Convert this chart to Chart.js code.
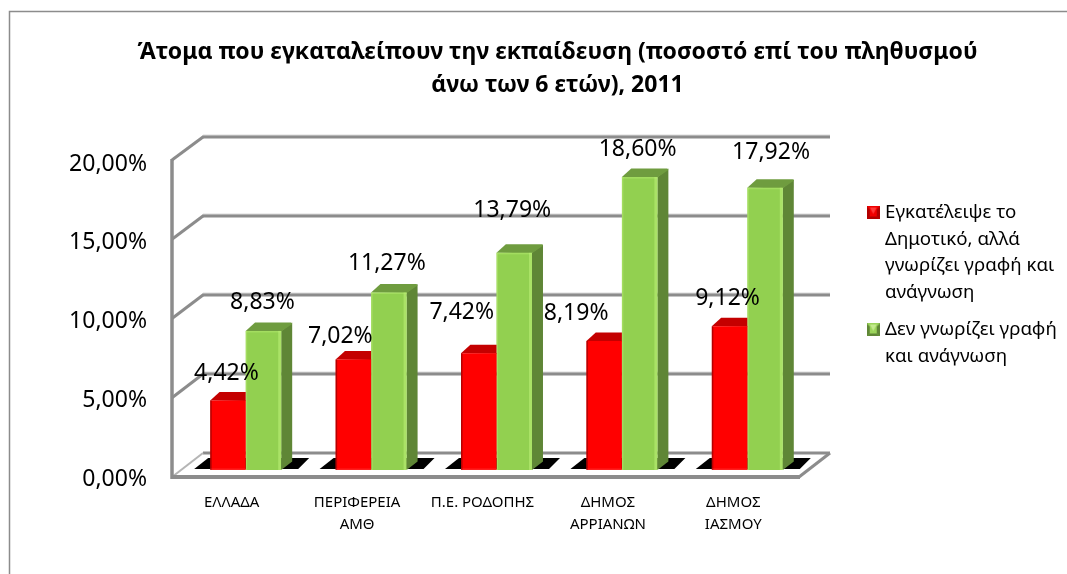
<!DOCTYPE html>
<html><head><meta charset="utf-8">
<script src="https://cdn.jsdelivr.net/npm/chart.js@4/dist/chart.umd.min.js"></script>
<style>html,body{margin:0;padding:0;background:#fff;overflow:hidden}canvas{display:block}</style>
</head><body><canvas id="c" width="1067" height="574"></canvas>
<script>
const categories = [["ΕΛΛΑΔΑ"],["ΠΕΡΙΦΕΡΕΙΑ","ΑΜΘ"],["Π.Ε. ΡΟΔΟΠΗΣ"],["ΔΗΜΟΣ","ΑΡΡΙΑΝΩΝ"],["ΔΗΜΟΣ","ΙΑΣΜΟΥ"]];
const leftSchool = [4.42,7.02,7.42,8.19,9.12];
const illiterate = [8.83,11.27,13.79,18.60,17.92];
const seriesNames = ["Εγκατέλειψε το Δημοτικό, αλλά γνωρίζει γραφή και ανάγνωση","Δεν γνωρίζει γραφή και ανάγνωση"];
const legendLines = [["Εγκατέλειψε το","Δημοτικό, αλλά","γνωρίζει γραφή και","ανάγνωση"],["Δεν γνωρίζει γραφή","και ανάγνωση"]];
const titleLines = ["Άτομα που εγκαταλείπουν την εκπαίδευση (ποσοστό επί του πληθυσμού","άνω των 6 ετών), 2011"];

const FONT = '"Noto Sans"';
const GRID = '#8c8c8c';
// label placement nudges, Excel's manual label layout [dx, dy]
const nudgeRed = [[-1.5,-27],[-13,-23],[-17,-41],[-28,-28],[-2,-28]];
const nudgeGreen = [[-1,-28],[-2,-29.5],[-2,-42],[-2,-28],[6,-35]];
const fmt = v => v.toFixed(2).replace('.', ',') + '%';

function swatch(main, dark, light){
  const s = 13, c = document.createElement('canvas'); c.width = s; c.height = s;
  const g = c.getContext('2d');
  g.fillStyle = main; g.fillRect(0,0,s,s);
  g.fillStyle = dark;
  g.beginPath(); g.moveTo(0,s); g.lineTo(3,s-3); g.lineTo(s-3,s-3); g.lineTo(s,s); g.fill();
  g.beginPath(); g.moveTo(0,0); g.lineTo(3,3); g.lineTo(3,s-3); g.lineTo(0,s); g.fill();
  g.beginPath(); g.moveTo(s,0); g.lineTo(s-3,3); g.lineTo(s-3,s-3); g.lineTo(s,s); g.fill();
  g.fillStyle = light;
  g.beginPath(); g.moveTo(3,1); g.lineTo(s-3,1); g.lineTo(s/2,s/2+1); g.fill();
  return c;
}
const swatches = [swatch('#f00000','#b00000','#ff3a3a'), swatch('#9bd45a','#5f8636','#c4ea8e')];

function poly(ctx, pts, fill){
  ctx.fillStyle = fill; ctx.beginPath();
  pts.forEach((p,i)=> i ? ctx.lineTo(p[0],p[1]) : ctx.moveTo(p[0],p[1]));
  ctx.closePath(); ctx.fill();
}
function line(ctx, x1,y1,x2,y2,w,col){
  ctx.strokeStyle = col; ctx.lineWidth = w; ctx.lineCap='butt';
  ctx.beginPath(); ctx.moveTo(x1,y1); ctx.lineTo(x2,y2); ctx.stroke();
}

const DX = 11, DY = 8.5;
const chart3d = {
  id:'chart3d',
  beforeUpdate(chart){
    const lg = chart.legend;
    if (lg && !lg._wrapped){
      const f = lg.fit;
      lg.fit = function(){ f.call(this); this.width = 257; };
      lg._wrapped = true;
    }
  },
  afterLayout(chart){
    chart.legend.left = 860.25;
    chart.legend.top = 193;
  },
  beforeDraw(chart){
    const c = chart.ctx;
    c.save();
    c.fillStyle='#fff'; c.fillRect(0,0,chart.width,chart.height);
    c.strokeStyle=GRID; c.lineWidth=1.5;
    c.beginPath(); c.moveTo(9.5,574); c.lineTo(9.5,11.5); c.lineTo(1067,11.5); c.stroke();
    c.restore();
  },
  beforeDatasetsDraw(chart){
    const c = chart.ctx, {left,right} = chart.chartArea, ys = chart.scales.y;
    const fl = left-11, bl = left+20, br = right+20, fr = right-11;
    const back = v => ys.getPixelForValue(v)-17-v/20;
    const front = v => ys.getPixelForValue(v)+7-2*v/20;
    c.save();
    ys.ticks.forEach(t=>{
      const v=t.value, by=back(v), fy=front(v);
      if (v>0){
        line(c,bl,by-1.5,br,by-1.5,2,'#dcdcdc');
        line(c,bl-1,by,br,by,3,GRID);
        line(c,fl,fy,bl,by,3,GRID);
      }
    });
    // floor
    const by0=back(0), fy0=front(0);
    line(c,bl,by0,br,by0,3,GRID);
    line(c,fl,fy0,bl,by0,2,'#b5b5b5');
    line(c,fr,fy0,br,by0,3,GRID);
    // left wall, front floor edge
    line(c,fl,front(20)-1,fl,fy0+2,3.5,GRID);
    line(c,fl-1,fy0,fr+1,fy0,4,GRID);
    // shadows
    const red = chart.getDatasetMeta(0).data, green = chart.getDatasetMeta(1).data;
    const y0 = ys.getPixelForValue(0);
    red.forEach((r,i)=>{
      const g = green[i], L=r.x-r.width/2, R=g.x+g.width/2;
      poly(c,[[L-16,y0-1],[L-2,y0-12],[R+28,y0-12],[R+17,y0-1]],'#000');
    });
    c.restore();
  },
  beforeDatasetDraw(chart,args){
    const c = chart.ctx, meta = args.meta;
    const y0 = chart.scales.y.getPixelForValue(0);
    const cols = args.index===0 ? {top:'#c40000',side:'#a00000'} : {top:'#6f9c3f',side:'#5f8636'};
    c.save();
    meta.data.forEach(b=>{
      const L=b.x-b.width/2, R=b.x+b.width/2, T=b.y;
      c.save();
      if (args.index===0){ c.beginPath(); c.rect(L-1,T-20,b.width+1,y0-T+20); c.clip(); }
      poly(c,[[R,T],[R+DX,T-DY],[R+DX,y0-DY],[R,y0]],cols.side);
      poly(c,[[L,T],[L+DX*.85,T-DY],[R+DX-1,T-DY],[R+DX,T-DY+1.5],[R,T+0.5]],cols.top);
      c.restore();
    });
    c.restore();
  },
  afterDatasetDraw(chart,args){
    const c = chart.ctx;
    c.save();
    args.meta.data.forEach(b=>{
      const L=b.x-b.width/2, R=b.x+b.width/2, T=b.y, H=b.base-b.y;
      if (args.index===0){
        c.fillStyle='rgba(120,0,0,.55)'; c.fillRect(L,T,1.5,H);
        c.fillStyle='rgba(255,255,255,.12)'; c.fillRect(L,b.base-1.5,b.width,1.5);
      } else {
        c.fillStyle='rgba(190,240,120,.55)'; c.fillRect(R-3,T,3,H);
        c.fillStyle='rgba(190,240,120,.4)'; c.fillRect(L,T,1.5,H);
        c.fillStyle='rgba(190,240,120,.4)'; c.fillRect(L,T,b.width,1.5);
      }
    });
    c.restore();
  },
  afterDatasetsDraw(chart){
    const c = chart.ctx;
    c.save();
    c.fillStyle='#000'; c.font='23px '+FONT; c.textAlign='center'; c.textBaseline='middle';
    [nudgeRed,nudgeGreen].forEach((nudge,ds)=>{
      chart.getDatasetMeta(ds).data.forEach((b,i)=>{
        c.fillText(fmt(chart.data.datasets[ds].data[i]), b.x+nudge[i][0], b.y+nudge[i][1]);
      });
    });
    c.restore();
  }
};

new Chart(document.getElementById('c'), {
  type:'bar',
  data:{
    labels:categories,
    datasets:[
      {label:seriesNames[0], data:leftSchool, backgroundColor:'#ff0000', borderWidth:0},
      {label:seriesNames[1], data:illiterate, backgroundColor:'#92d050', borderWidth:0}
    ]
  },
  options:{
    responsive:false, animation:false, devicePixelRatio:1,
    layout:{padding:{left:48,top:0,right:0,bottom:0}},
    datasets:{bar:{categoryPercentage:0.566,barPercentage:1}},
    plugins:{
      title:{display:true,text:titleLines,color:'#000',
        font:{family:FONT,size:23,weight:'bold',lineHeight:1.435},
        padding:{top:35.5,bottom:53.5}},
      legend:{display:true,position:'right',align:'start',
        labels:{
          usePointStyle:true, boxWidth:4.8, padding:10.6, color:'#000',
          font:{family:FONT,size:18.7,lineHeight:1.4225},
          generateLabels:()=>legendLines.map((t,i)=>({text:t,pointStyle:swatches[i],lineWidth:0,strokeStyle:'transparent',fillStyle:'transparent',datasetIndex:i,hidden:false}))
        }},
      tooltip:{enabled:false}
    },
    scales:{
      x:{
        grid:{display:false,drawTicks:false},border:{display:false},
        afterFit(s){s.height=104;},
        ticks:{color:'#000',font:{family:FONT,size:15,lineHeight:1.47},padding:22,labelOffset:-14,maxRotation:0,autoSkip:false}
      },
      y:{
        min:0,max:20,
        grid:{display:false,drawTicks:false},border:{display:false},
        afterFit(s){s.width=135;},
        ticks:{stepSize:5,color:'#000',font:{family:FONT,size:23},padding:36,labelOffset:9,callback:fmt}
      }
    }
  },
  plugins:[chart3d]
});
</script></body></html>
